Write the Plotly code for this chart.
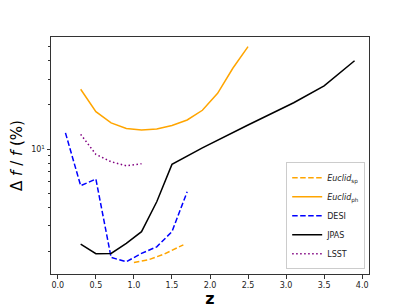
import plotly.graph_objects as go

# Data
z_euclid_sp = [1.0, 1.2, 1.4, 1.65]
f_euclid_sp = [1.68, 1.76, 1.92, 2.22]

z_euclid_ph = [0.3, 0.5, 0.7, 0.9, 1.1, 1.3, 1.5, 1.7, 1.9, 2.1, 2.3, 2.5]
f_euclid_ph = [25.6, 18.0, 15.1, 13.8, 13.5, 13.7, 14.5, 15.8, 18.4, 24.0, 35.6, 50.0]

z_desi = [0.1, 0.3, 0.5, 0.7, 0.9, 1.1, 1.3, 1.5, 1.7]
f_desi = [12.9, 5.62, 6.24, 1.82, 1.70, 1.94, 2.15, 2.73, 5.11]

z_jpas = [0.3, 0.5, 0.7, 0.9, 1.1, 1.3, 1.5, 1.9, 2.5, 3.1, 3.5, 3.9]
f_jpas = [2.24, 1.93, 1.94, 2.27, 2.73, 4.37, 7.86, 10.2, 14.6, 20.7, 27.0, 40.1]

z_lsst = [0.3, 0.5, 0.7, 0.9, 1.1]
f_lsst = [12.6, 9.2, 8.19, 7.69, 7.94]

x_ticks = [0.0, 0.5, 1.0, 1.5, 2.0, 2.5, 3.0, 3.5, 4.0]
y_major = [10]
y_major_text = ["10<sup>1</sup>"]
y_minor = [2, 3, 4, 5, 6, 7, 8, 9, 20, 30, 40, 50]

FONT = "DejaVu Sans"
DASH = "5.5px,2.5px"
DOT = "1.5px,2.5px"

fig = go.Figure()
fig.add_trace(go.Scatter(x=z_euclid_sp, y=f_euclid_sp, mode="lines",
                         name="<i>Euclid</i><sub>sp</sub>",
                         line=dict(color="orange", width=1.5, dash=DASH)))
fig.add_trace(go.Scatter(x=z_euclid_ph, y=f_euclid_ph, mode="lines",
                         name="<i>Euclid</i><sub>ph</sub>",
                         line=dict(color="orange", width=1.5)))
fig.add_trace(go.Scatter(x=z_desi, y=f_desi, mode="lines", name="DESI",
                         line=dict(color="blue", width=1.5, dash=DASH)))
fig.add_trace(go.Scatter(x=z_jpas, y=f_jpas, mode="lines", name="JPAS",
                         line=dict(color="black", width=1.5)))
fig.add_trace(go.Scatter(x=z_lsst, y=f_lsst, mode="lines", name="LSST",
                         line=dict(color="purple", width=1.5, dash=DOT)))

fig.update_layout(
    width=403, height=300,
    margin=dict(l=43, r=41.5, t=29, b=34, autoexpand=False),
    paper_bgcolor="white", plot_bgcolor="white",
    font=dict(family=FONT, size=8, color="#222"),
    showlegend=True,
    legend=dict(x=0.988, y=0.02, xanchor="right", yanchor="bottom",
                bgcolor="rgba(255,255,255,0.8)", bordercolor="#ccc", borderwidth=1,
                font=dict(size=8, family=FONT), tracegroupgap=0, itemwidth=30),
    xaxis=dict(range=[-0.09, 4.09], tickvals=x_ticks, tickformat=".1f",
               ticks="outside", ticklen=3.5, tickwidth=0.8, tickcolor="#333",
               showline=True, linecolor="#333", linewidth=1, mirror=True,
               showgrid=False, zeroline=False, automargin=False,
               tickfont=dict(size=8, family=FONT),
               title=dict(text="<b>z</b>", font=dict(size=16, family=FONT, color="black"), standoff=2)),
    yaxis=dict(type="log", range=[0.147, 1.765], tickvals=y_major, ticktext=y_major_text,
               ticks="outside", ticklen=3.5, tickwidth=0.8, tickcolor="#333",
               showline=True, linecolor="#333", linewidth=1, mirror=True,
               showgrid=False, zeroline=False, automargin=False,
               tickfont=dict(size=8, family=FONT),
               minor=dict(tickvals=y_minor, ticks="outside", ticklen=2, tickwidth=0.6,
                          tickcolor="#333", showgrid=False),
               title=dict(text="Δ <i>f</i> / <i>f</i> (%)", font=dict(size=15, family=FONT, color="black"),
                          standoff=15)),
)

fig.write_html("out.html")
